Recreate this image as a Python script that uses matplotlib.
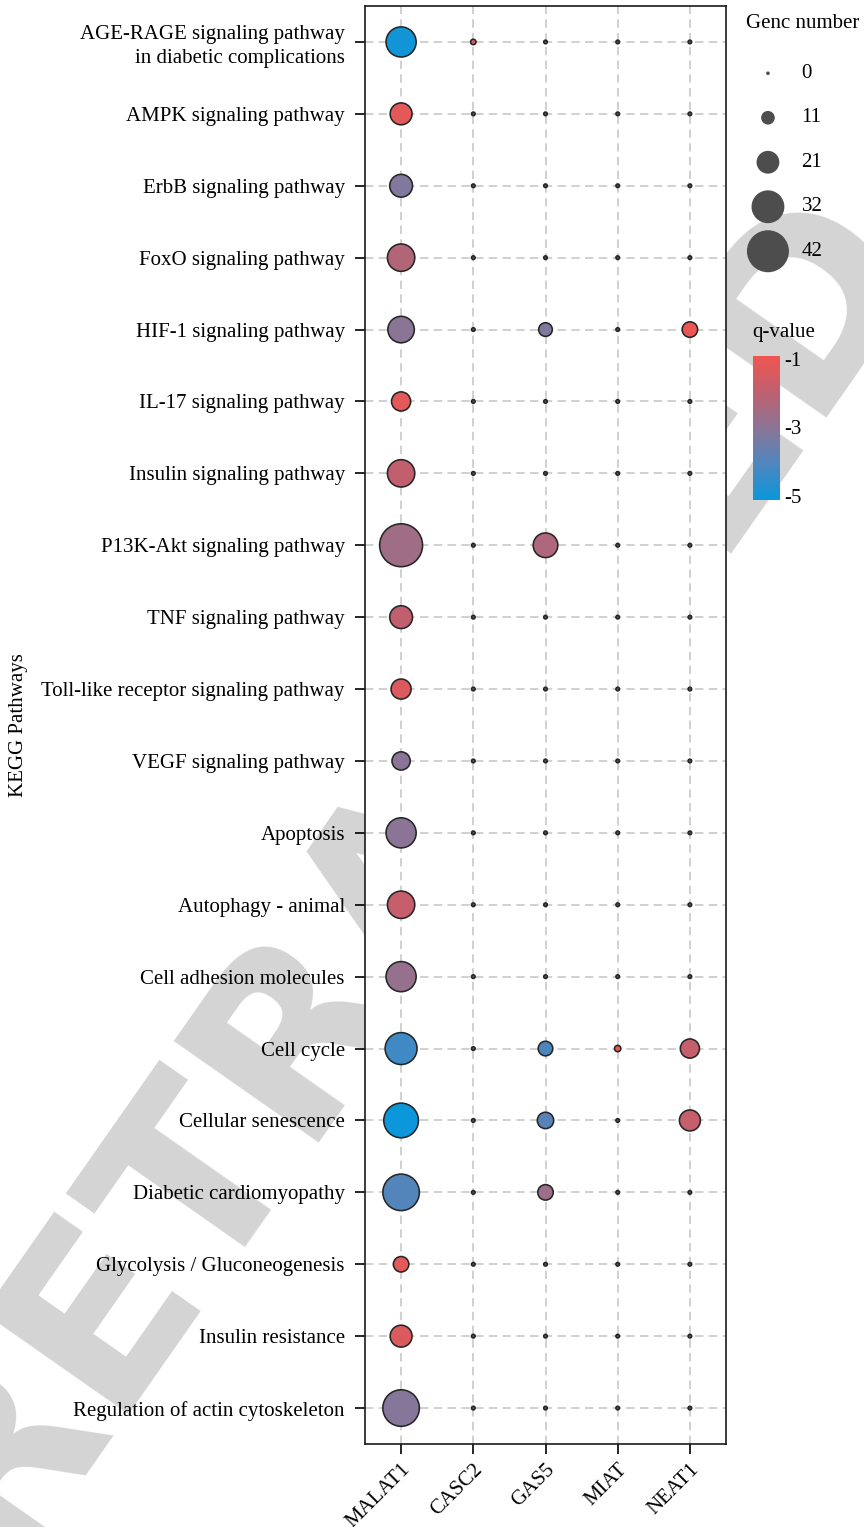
import numpy as np
import matplotlib
matplotlib.use("Agg")
import matplotlib.pyplot as plt
from matplotlib.colors import LinearSegmentedColormap, Normalize
from matplotlib.cm import ScalarMappable

nan = np.nan

pathways = [
    "AGE-RAGE signaling pathway\nin diabetic complications",
    "AMPK signaling pathway",
    "ErbB signaling pathway",
    "FoxO signaling pathway",
    "HIF-1 signaling pathway",
    "IL-17 signaling pathway",
    "Insulin signaling pathway",
    "P13K-Akt signaling pathway",
    "TNF signaling pathway",
    "Toll-like receptor signaling pathway",
    "VEGF signaling pathway",
    "Apoptosis",
    "Autophagy - animal",
    "Cell adhesion molecules",
    "Cell cycle",
    "Cellular senescence",
    "Diabetic cardiomyopathy",
    "Glycolysis / Gluconeogenesis",
    "Insulin resistance",
    "Regulation of actin cytoskeleton",
]
genes = ["MALAT1", "CASC2", "GAS5", "MIAT", "NEAT1"]

# gene number per pathway (rows follow `pathways`)
count_malat1 = [29, 20, 21, 26, 25, 17, 26, 43, 21, 18, 16, 29, 26, 29, 31, 34, 36, 13, 20, 36]
count_casc2 = [2, 0, 0, 0, 0, 0, 0, 0, 0, 0, 0, 0, 0, 0, 0, 0, 0, 0, 0, 0]
count_gas5 = [0, 0, 0, 0, 11, 0, 0, 23, 0, 0, 0, 0, 0, 0, 12, 14, 13, 0, 0, 0]
count_miat = [0, 0, 0, 0, 0, 0, 0, 0, 0, 0, 0, 0, 0, 0, 3, 0, 0, 0, 0, 0]
count_neat1 = [0, 0, 0, 0, 13, 0, 0, 0, 0, 0, 0, 0, 0, 0, 17, 19, 0, 0, 0, 0]

# log10 q-value, nan where no genes were found
q_malat1 = [-5.0, -1.2, -3.2, -2.2, -3.0, -1.2, -1.9, -2.6, -1.9, -1.4,
            -3.0, -3.0, -1.8, -2.8, -4.3, -5.1, -4.0, -1.2, -1.4, -3.1]
q_casc2 = [-1.6] + [nan] * 19
q_gas5 = [nan, nan, nan, nan, -3.2, nan, nan, -2.3, nan, nan,
          nan, nan, nan, nan, -4.1, -3.9, -2.7, nan, nan, nan]
q_miat = [nan] * 14 + [-0.95] + [nan] * 5
q_neat1 = [nan, nan, nan, nan, -1.0, nan, nan, nan, nan, nan,
           nan, nan, nan, nan, -1.8, -1.8, nan, nan, nan, nan]

legend_counts = [0, 11, 21, 32, 42]
cbar_ticks = [-1, -3, -5]


def marker_area(n):
    # radius grows linearly with gene number, returned as scatter area (pt^2)
    r_px = 1.8 + np.asarray(n, dtype=float) * 19.2 / 42
    return (2 * r_px * 0.72) ** 2


def main():
    plt.rcParams["font.family"] = ["Liberation Serif", "DejaVu Serif"]
    plt.rcParams["font.size"] = 15

    cmap = LinearSegmentedColormap.from_list(
        "qv", ["#0A97D9", "#4F86BE", "#8B7596", "#BF6070", "#F0554F"])
    norm = Normalize(vmin=-5.12, vmax=-0.91)

    fig = plt.figure(figsize=(8.64, 15.27), dpi=100)

    # grey stamp across the page
    fig.text(0.47, 0.43, "RETRACTED", rotation=55, fontsize=175,
             fontweight="bold", family="DejaVu Sans", color="#d4d4d4",
             ha="center", va="center", zorder=-5)

    ax = fig.add_axes([365 / 864, 1 - 1444 / 1527, 361 / 864, 1438 / 1527])
    ax.set_facecolor("white")

    counts = [count_malat1, count_casc2, count_gas5, count_miat, count_neat1]
    qvals = [q_malat1, q_casc2, q_gas5, q_miat, q_neat1]
    rows = np.arange(len(pathways))
    for j, (c, q) in enumerate(zip(counts, qvals)):
        c = np.array(c)
        q = np.array(q, dtype=float)
        colors = [cmap(norm(v)) if not np.isnan(v) else "#555555" for v in q]
        ax.scatter(np.full(len(rows), j), rows, s=marker_area(c), c=colors,
                   edgecolors="#262626", linewidths=1.15, zorder=3)

    ax.set_xlim(-0.5, len(genes) - 0.5)
    ax.set_ylim(len(pathways) - 0.5, -0.5)
    ax.set_xticks(range(len(genes)))
    ax.set_xticklabels(genes, rotation=45, ha="right", rotation_mode="anchor")
    ax.set_yticks(rows)
    ax.set_yticklabels(pathways, linespacing=1.3)
    ax.tick_params(length=7.5, width=1.2, color="black", pad=7)
    ax.tick_params(axis="x", pad=4)
    ax.grid(True, color="#c4c4c4", linewidth=1.1, linestyle=(0, (5.5, 3.5)), zorder=1)
    ax.set_axisbelow(True)
    for sp in ax.spines.values():
        sp.set_linewidth(1.2)
        sp.set_color("#1a1a1a")
    ax.set_ylabel("KEGG Pathways", labelpad=10)

    # size legend
    lax = fig.add_axes([746 / 864, 1 - 273.5 / 1527, 118 / 864, 222.5 / 1527])
    lax.set_xlim(0, 1)
    lax.set_ylim(len(legend_counts) - 0.5, -0.5)
    lax.axis("off")
    lax.scatter(np.full(len(legend_counts), 0.186), range(len(legend_counts)),
                s=marker_area(legend_counts), color="#4d4d4d", linewidths=0,
                clip_on=False)
    for i, n in enumerate(legend_counts):
        lax.text(0.47, i, str(n), ha="left", va="center")
    fig.text(746 / 864, 1 - 24 / 1527, "Genc number", ha="left", va="center")

    # q-value colour bar
    cax = fig.add_axes([753 / 864, 1 - 500 / 1527, 27 / 864, 144 / 1527])
    cb = fig.colorbar(ScalarMappable(norm=norm, cmap=cmap), cax=cax)
    cb.outline.set_visible(False)
    cb.set_ticks(cbar_ticks)
    cb.set_ticklabels([str(t) for t in cbar_ticks])
    cax.tick_params(length=0, pad=3)
    fig.text(752 / 864, 1 - 333 / 1527, "q-value", ha="left", va="center")

    fig.savefig("out.png", dpi=100)


if __name__ == "__main__":
    main()
